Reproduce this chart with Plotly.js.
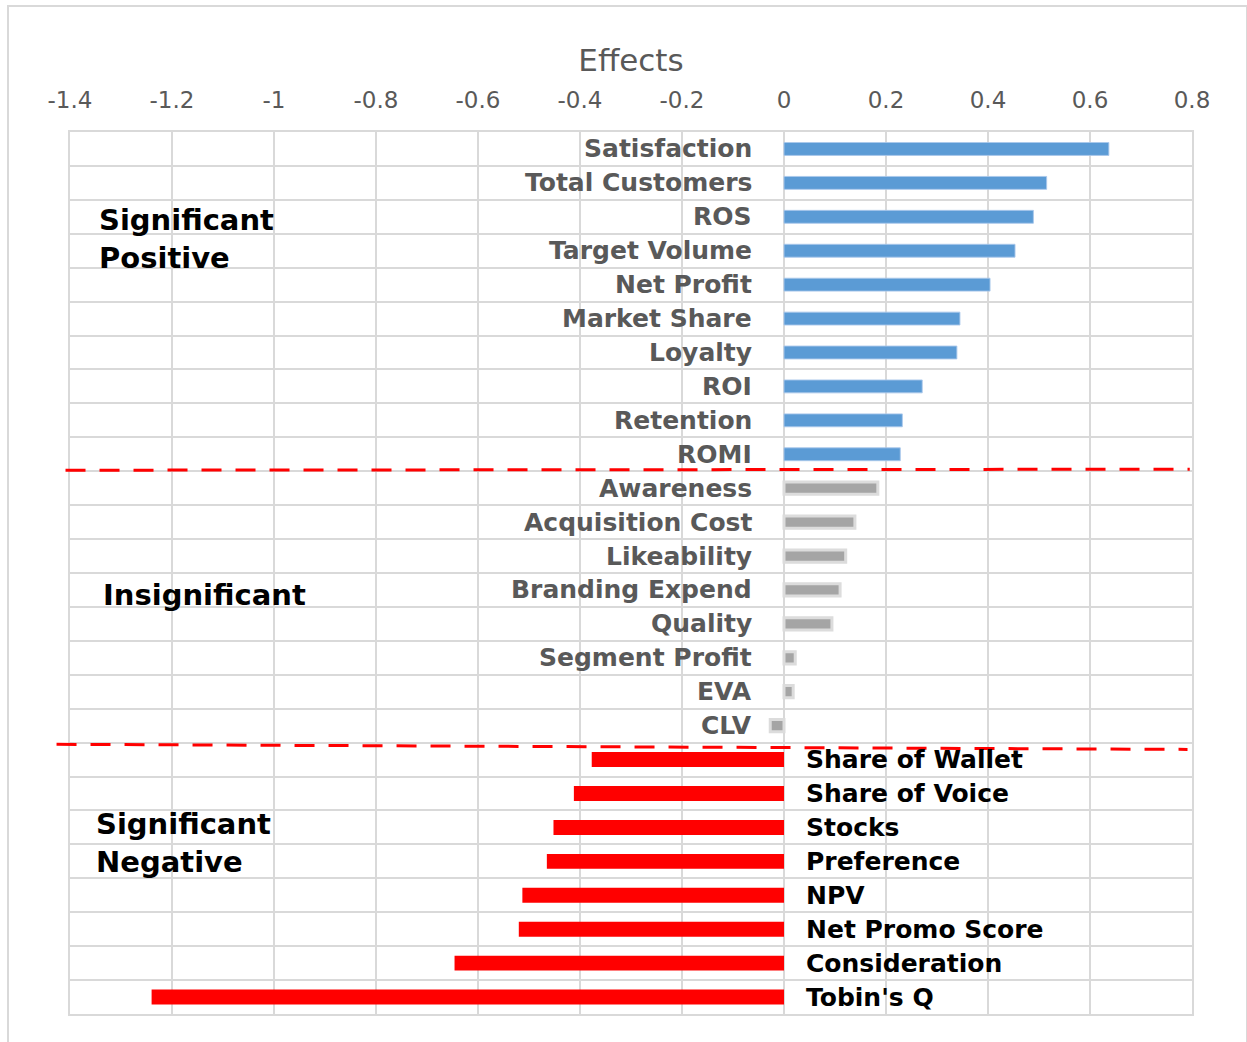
<!DOCTYPE html>
<html>
<head>
<meta charset="utf-8">
<script src="https://cdn.plot.ly/plotly-3.0.1.min.js"></script>
<style>
  html, body { margin: 0; padding: 0; background: #ffffff; }
  #frame {
    position: absolute; left: 7px; top: 5px; width: 1241px; height: 1060px;
    border: 2px solid #d9d9d9; box-sizing: border-box;
  }
  #chart { position: absolute; left: 0; top: 0; width: 1247px; height: 1042px; }
</style>
</head>
<body>
<div id="frame"></div>
<div id="chart"></div>
<script>
// Metrics grouped by the significance of their effect
const positiveLabels = ['Satisfaction', 'Total Customers', 'ROS', 'Target Volume', 'Net Profit',
                        'Market Share', 'Loyalty', 'ROI', 'Retention', 'ROMI'];
const positiveValues = [0.637, 0.515, 0.489, 0.453, 0.404, 0.345, 0.339, 0.271, 0.232, 0.228];

const insignificantLabels = ['Awareness', 'Acquisition Cost', 'Likeability', 'Branding Expend',
                             'Quality', 'Segment Profit', 'EVA', 'CLV'];
const insignificantValues = [0.184, 0.139, 0.121, 0.110, 0.094, 0.022, 0.018, -0.027];

const negativeLabels = ['Share of Wallet', 'Share of Voice', 'Stocks', 'Preference', 'NPV',
                        'Net Promo Score', 'Consideration', "Tobin's Q"];
const negativeValues = [-0.377, -0.412, -0.452, -0.465, -0.513, -0.520, -0.646, -1.240];

const tickValues = [-1.4, -1.2, -1, -0.8, -0.6, -0.4, -0.2, 0, 0.2, 0.4, 0.6, 0.8];
const tickLabels = ['-1.4', '-1.2', '-1', '-0.8', '-0.6', '-0.4', '-0.2', '0', '0.2', '0.4', '0.6', '0.8'];

const groupTitles = ['Significant<br>Positive', 'Insignificant', 'Significant<br>Negative'];

const allLabels = positiveLabels.concat(insignificantLabels, negativeLabels);

const traces = [
  {
    type: 'bar', orientation: 'h', name: 'Significant Positive',
    x: positiveValues, y: positiveLabels, width: 0.38,
    marker: { color: '#5b9bd5', line: { color: 'rgba(170,200,235,0.9)', width: 1 } },
    hoverinfo: 'x+y'
  },
  {
    type: 'bar', orientation: 'h', name: 'Insignificant',
    x: insignificantValues, y: insignificantLabels, width: 0.36,
    marker: { color: '#a5a5a5', line: { color: '#dcdcdc', width: 3 } },
    hoverinfo: 'x+y'
  },
  {
    type: 'bar', orientation: 'h', name: 'Significant Negative',
    x: negativeValues, y: negativeLabels, width: 0.44,
    marker: { color: '#ff0000', line: { width: 0 } },
    hoverinfo: 'x+y'
  }
];

const labelFont = { family: 'DejaVu Sans', size: 25, weight: 700 };

// Category names sit beside the zero line: left for the upper groups, right for the negative group
const annotations = [];
positiveLabels.concat(insignificantLabels).forEach(function (name) {
  annotations.push({
    x: 0, y: name, xref: 'x', yref: 'y', text: name, showarrow: false,
    xanchor: 'right', yanchor: 'middle', xshift: -30,
    font: Object.assign({ color: '#595959' }, labelFont)
  });
});
negativeLabels.forEach(function (name) {
  annotations.push({
    x: 0, y: name, xref: 'x', yref: 'y', text: name, showarrow: false,
    xanchor: 'left', yanchor: 'middle', xshift: 20,
    font: Object.assign({ color: '#000000' }, labelFont)
  });
});

// Group headings on the left of the plot
const groupFont = { family: 'DejaVu Sans', size: 29, weight: 700, color: '#000000' };
const groupPositions = [
  { x: 0.024, y: 0.879 },
  { x: 0.028, y: 0.475 },
  { x: 0.021, y: 0.194 }
];
groupTitles.forEach(function (t, i) {
  annotations.push({
    xref: 'paper', yref: 'paper', x: groupPositions[i].x, y: groupPositions[i].y,
    text: t, showarrow: false, align: 'left', xanchor: 'left', yanchor: 'middle',
    font: groupFont
  });
});

// Dashed separators between the groups
const firstCut = positiveLabels.length - 0.5;
const secondCut = positiveLabels.length + insignificantLabels.length - 0.5;
const shapes = [
  {
    type: 'line', xref: 'paper', yref: 'y', x0: -0.004, x1: 0.998,
    y0: firstCut - 0.03, y1: firstCut - 0.06,
    line: { color: '#ff0000', width: 3, dash: '20px,14px' }
  },
  {
    type: 'line', xref: 'paper', yref: 'y', x0: -0.012, x1: 0.996,
    y0: secondCut + 0.05, y1: secondCut + 0.2,
    line: { color: '#ff0000', width: 3, dash: '20px,14px' }
  }
];

const layout = {
  width: 1247, height: 1042,
  margin: { l: 70, r: 55, t: 132, b: 28, pad: 0 },
  paper_bgcolor: 'rgba(0,0,0,0)',
  plot_bgcolor: 'rgba(0,0,0,0)',
  barmode: 'overlay',
  showlegend: false,
  title: {
    text: 'Effects', x: 0.5, xref: 'paper', xanchor: 'center',
    y: 1 - 60 / 1042, yanchor: 'middle',
    font: { family: 'DejaVu Sans', size: 31, color: '#595959' }
  },
  xaxis: {
    side: 'top', range: [-1.4, 0.8],
    tickmode: 'array', tickvals: tickValues, ticktext: tickLabels,
    ticks: '', ticklabelstandoff: 13,
    tickfont: { family: 'DejaVu Sans', size: 23, color: '#595959' },
    showgrid: true, gridcolor: '#d9d9d9', gridwidth: 2,
    zeroline: false,
    showline: true, mirror: true, linecolor: '#d9d9d9', linewidth: 2
  },
  yaxis: {
    type: 'category', categoryorder: 'array', categoryarray: allLabels,
    autorange: 'reversed',
    tickson: 'boundaries', ticks: '', showticklabels: false,
    showgrid: true, gridcolor: '#d9d9d9', gridwidth: 2,
    zeroline: false,
    showline: true, mirror: true, linecolor: '#d9d9d9', linewidth: 2
  },
  annotations: annotations,
  shapes: shapes
};

Plotly.newPlot('chart', traces, layout, { displayModeBar: false, staticPlot: true });
</script>
</body>
</html>
